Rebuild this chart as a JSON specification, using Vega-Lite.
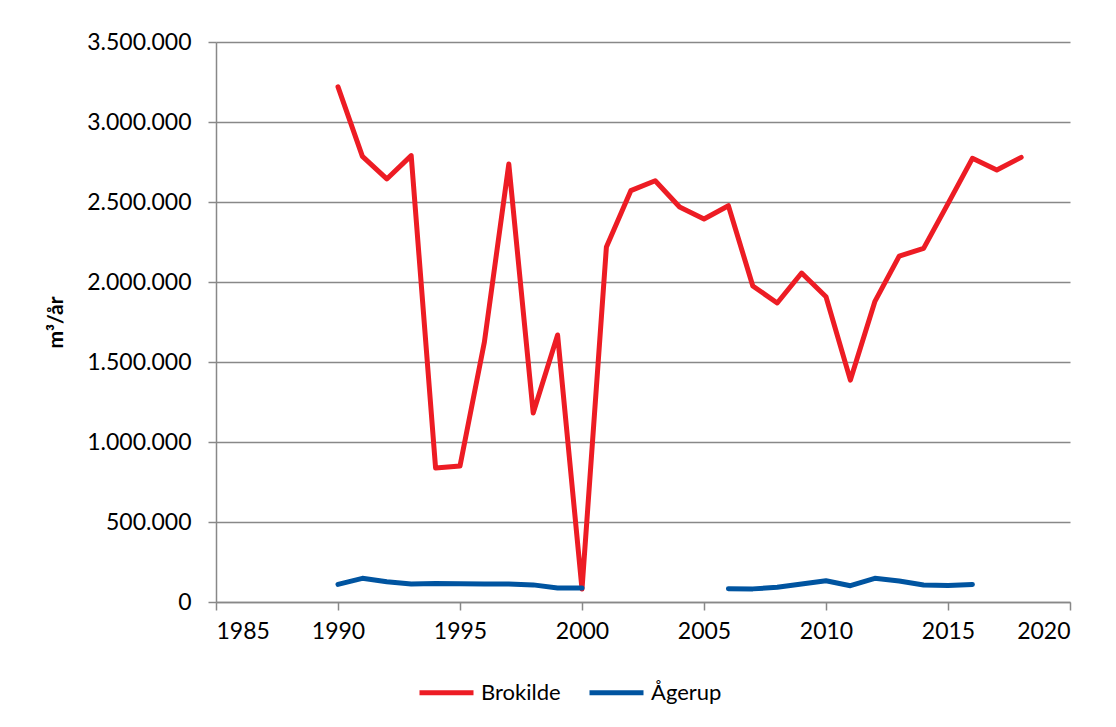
{
  "$schema": "https://vega.github.io/schema/vega-lite/v6.json",
  "width": 854,
  "height": 560,
  "autosize": {"type": "none"},
  "padding": {"left": 216, "top": 42, "right": 46, "bottom": 125},
  "background": "white",
  "config": {
    "locale": {"number": {"decimal": ",", "thousands": ".", "grouping": [3], "currency": ["", " kr"]}},
    "view": {"stroke": null},
    "font": "Lato",
    "axis": {"labelFont": "Lato", "titleFont": "Lato", "labelFontSize": 23, "labelColor": "#000", "titleColor": "#000", "domainColor": "#888", "tickColor": "#888", "gridColor": "#888", "domainWidth": 1.5, "tickWidth": 1.5, "gridWidth": 1.5, "tickSize": 8}
  },
  "data": {
    "values": [
      {"year": 1990, "site": "Brokilde", "v": 3220000},
      {"year": 1991, "site": "Brokilde", "v": 2785000},
      {"year": 1992, "site": "Brokilde", "v": 2644000},
      {"year": 1993, "site": "Brokilde", "v": 2790000},
      {"year": 1994, "site": "Brokilde", "v": 837000},
      {"year": 1995, "site": "Brokilde", "v": 850000},
      {"year": 1996, "site": "Brokilde", "v": 1625000},
      {"year": 1997, "site": "Brokilde", "v": 2737000},
      {"year": 1998, "site": "Brokilde", "v": 1181000},
      {"year": 1999, "site": "Brokilde", "v": 1669000},
      {"year": 2000, "site": "Brokilde", "v": 81000},
      {"year": 2001, "site": "Brokilde", "v": 2219000},
      {"year": 2002, "site": "Brokilde", "v": 2571000},
      {"year": 2003, "site": "Brokilde", "v": 2633000},
      {"year": 2004, "site": "Brokilde", "v": 2469000},
      {"year": 2005, "site": "Brokilde", "v": 2394000},
      {"year": 2006, "site": "Brokilde", "v": 2477000},
      {"year": 2007, "site": "Brokilde", "v": 1975000},
      {"year": 2008, "site": "Brokilde", "v": 1869000},
      {"year": 2009, "site": "Brokilde", "v": 2056000},
      {"year": 2010, "site": "Brokilde", "v": 1908000},
      {"year": 2011, "site": "Brokilde", "v": 1387000},
      {"year": 2012, "site": "Brokilde", "v": 1877000},
      {"year": 2013, "site": "Brokilde", "v": 2162000},
      {"year": 2014, "site": "Brokilde", "v": 2210000},
      {"year": 2015, "site": "Brokilde", "v": 2490000},
      {"year": 2016, "site": "Brokilde", "v": 2773000},
      {"year": 2017, "site": "Brokilde", "v": 2700000},
      {"year": 2018, "site": "Brokilde", "v": 2779000},
      {"year": 1990, "site": "Ågerup", "v": 110000},
      {"year": 1991, "site": "Ågerup", "v": 148000},
      {"year": 1992, "site": "Ågerup", "v": 127000},
      {"year": 1993, "site": "Ågerup", "v": 112000},
      {"year": 1994, "site": "Ågerup", "v": 115000},
      {"year": 1995, "site": "Ågerup", "v": 114000},
      {"year": 1996, "site": "Ågerup", "v": 112000},
      {"year": 1997, "site": "Ågerup", "v": 112000},
      {"year": 1998, "site": "Ågerup", "v": 107000},
      {"year": 1999, "site": "Ågerup", "v": 88000},
      {"year": 2000, "site": "Ågerup", "v": 88000},
      {"year": 2001, "site": "Ågerup", "v": null},
      {"year": 2002, "site": "Ågerup", "v": null},
      {"year": 2003, "site": "Ågerup", "v": null},
      {"year": 2004, "site": "Ågerup", "v": null},
      {"year": 2005, "site": "Ågerup", "v": null},
      {"year": 2006, "site": "Ågerup", "v": 83000},
      {"year": 2007, "site": "Ågerup", "v": 82000},
      {"year": 2008, "site": "Ågerup", "v": 92000},
      {"year": 2009, "site": "Ågerup", "v": 112000},
      {"year": 2010, "site": "Ågerup", "v": 133000},
      {"year": 2011, "site": "Ågerup", "v": 102000},
      {"year": 2012, "site": "Ågerup", "v": 148000},
      {"year": 2013, "site": "Ågerup", "v": 131000},
      {"year": 2014, "site": "Ågerup", "v": 106000},
      {"year": 2015, "site": "Ågerup", "v": 103000},
      {"year": 2016, "site": "Ågerup", "v": 110000}
    ]
  },
  "mark": {"type": "line", "strokeWidth": 5, "interpolate": "linear", "invalid": "break-paths-show-path-domains", "strokeJoin": "round", "strokeCap": "round"},
  "encoding": {
    "x": {
      "field": "year", "type": "quantitative",
      "scale": {"domain": [1985, 2020], "nice": false, "zero": false},
      "axis": {"values": [1985, 1990, 1995, 2000, 2005, 2010, 2015, 2020], "format": "d", "grid": false, "title": null, "labelPadding": 10, "domain": true}
    },
    "y": {
      "field": "v", "type": "quantitative",
      "scale": {"domain": [0, 3500000], "nice": false},
      "axis": {"values": [0, 500000, 1000000, 1500000, 2000000, 2500000, 3000000, 3500000], "format": ",d", "grid": true, "title": "m³/år", "titleFontSize": 21, "titleFontWeight": "bold", "titlePadding": 20, "labelPadding": 17}
    },
    "color": {
      "field": "site", "type": "nominal",
      "scale": {"domain": ["Brokilde", "Ågerup"], "range": ["#ED1C24", "#0054A0"]},
      "legend": {"title": null, "orient": "none", "legendX": 201, "legendY": 621, "direction": "horizontal", "symbolType": "stroke", "symbolSize": 2916, "symbolStrokeWidth": 5, "labelFontSize": 22, "labelFont": "Lato", "labelColor": "#000", "columnPadding": 18, "labelOffset": 5}
    }
  }
}
